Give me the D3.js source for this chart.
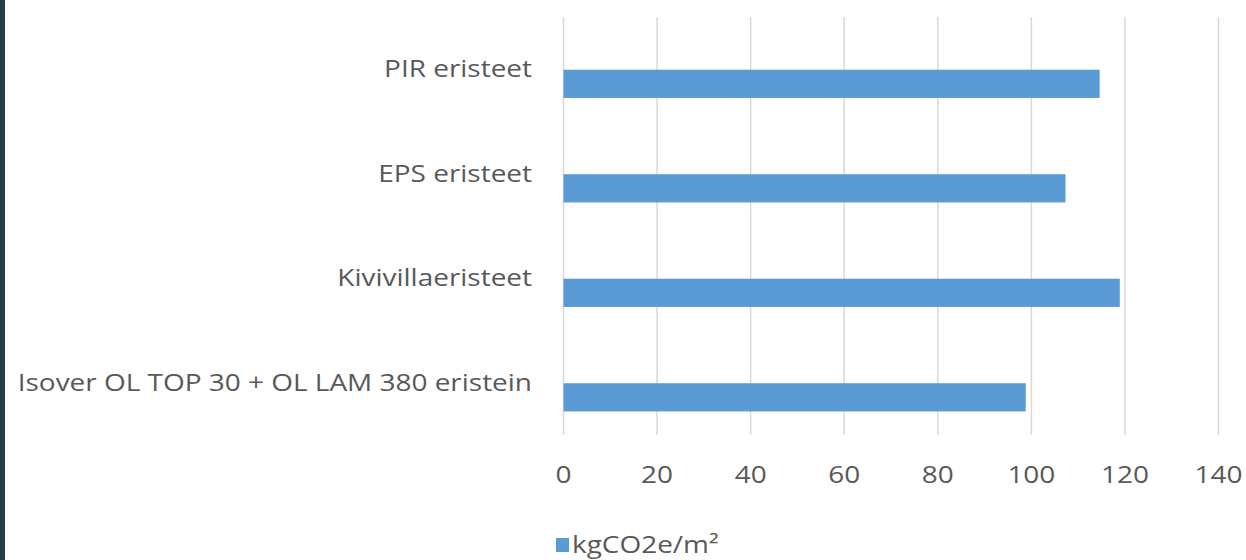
<!DOCTYPE html>
<html>
<head>
<meta charset="utf-8">
<script src="https://cdn.jsdelivr.net/npm/d3@7"></script>
<style>
  html, body { margin: 0; padding: 0; background: #ffffff; }
  svg { display: block; }
  text { font-family: "Open Sans", sans-serif; fill: #595959; }
</style>
</head>
<body>
<svg id="chart" width="1246" height="560"></svg>
<script>
// Categories, top to bottom
const categories = [
  "PIR eristeet",
  "EPS eristeet",
  "Kivivillaeristeet",
  "Isover OL TOP 30 + OL LAM 380 eristein"
];
// Embodied carbon per square metre
const values = [114.6, 107.3, 118.9, 98.8];
const seriesName = "kgCO2e/m\u00B2";
const xTicks = [0, 20, 40, 60, 80, 100, 120, 140];

const svg = d3.select("#chart");
const W = 1246, H = 560;
const fontSize = 23.5;
const stretch = 1.19;   // wide-set lettering
const place = (px, py) => `translate(${px},${py}) scale(${stretch},1)`;

// dark edge strip on the left
svg.append("rect").attr("x", 0).attr("y", 0).attr("width", 5).attr("height", H).attr("fill", "#2a3c45");

const plot = { left: 563.5, right: 1218.5, top: 17, bottom: 435 };

const x = d3.scaleLinear().domain([0, 140]).range([plot.left, plot.right]);
const y = d3.scaleBand().domain(categories).range([plot.top, plot.bottom]);

// vertical gridlines
svg.append("g")
  .selectAll("line")
  .data(xTicks)
  .join("line")
  .attr("x1", d => x(d)).attr("x2", d => x(d))
  .attr("y1", plot.top).attr("y2", plot.bottom)
  .attr("stroke", "#d9d9d9").attr("stroke-width", 1.5);

// bars sit just below the centre of each category band
const barH = y.bandwidth() * 0.27;
const barOffset = y.bandwidth() * 0.13;
svg.append("g")
  .selectAll("rect")
  .data(categories.map((c, i) => ({ c, v: values[i] })))
  .join("rect")
  .attr("x", x(0))
  .attr("y", d => y(d.c) + y.bandwidth() / 2 + barOffset - barH / 2 + 1)
  .attr("width", d => x(d.v) - x(0))
  .attr("height", barH)
  .attr("fill", "#5b9bd5");

// category labels
svg.append("g")
  .selectAll("text")
  .data(categories)
  .join("text")
  .attr("transform", d => place(532, y(d) + y.bandwidth() / 2 - 1))
  .attr("text-anchor", "end")
  .attr("dominant-baseline", "central")
  .attr("font-size", fontSize)
  .text(d => d);

// x tick labels
svg.append("g")
  .selectAll("text")
  .data(xTicks)
  .join("text")
  .attr("transform", d => place(x(d), 474))
  .attr("text-anchor", "middle")
  .attr("dominant-baseline", "central")
  .attr("font-size", fontSize)
  .text(d => d);

// legend
const lg = svg.append("g");
lg.append("rect").attr("x", 556).attr("y", 538).attr("width", 13).attr("height", 14).attr("fill", "#5b9bd5");
lg.append("text").attr("transform", place(572, 544)).attr("dominant-baseline", "central")
  .attr("font-size", fontSize).text(seriesName);
</script>
</body>
</html>
